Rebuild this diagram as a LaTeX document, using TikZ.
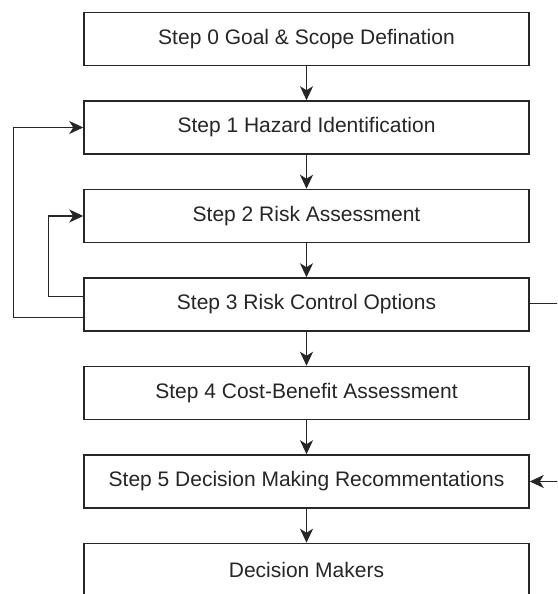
\documentclass[tikz,border=0pt]{standalone}
\usepackage{fontspec}
\setmainfont{Liberation Sans}
\usetikzlibrary{arrows.meta,positioning}

\begin{document}
\begin{tikzpicture}[x=1pt, y=1pt, >={Stealth[length=14pt,width=13pt,inset=4pt]}, node distance=88.5pt, on grid]

\tikzstyle{stepbox}=[draw=black!85, line width=1.5pt, minimum width=445pt, minimum height=53pt, inner sep=0pt, text=black!85, font=\fontsize{21}{25}\selectfont]
\tikzstyle{flow}=[->, line width=1.5pt, draw=black!85]

\clip (0,0) rectangle (557,594);
\fill[white] (0,0) rectangle (557,594);

\node[stepbox] (s0) at (306.5,555) {Step 0 Goal \& Scope Defination};
\node[stepbox, below=of s0] (s1) {Step 1 Hazard Identification};
\node[stepbox, below=of s1] (s2) {Step 2 Risk Assessment};
\node[stepbox, below=of s2] (s3) {Step 3 Risk Control Options};
\node[stepbox, below=of s3] (s4) {Step 4 Cost-Benefit Assessment};
\node[stepbox, below=of s4] (s5) {Step 5 Decision Making Recommentations};
\node[stepbox, below=of s5] (dm) {Decision Makers};

\draw[flow] (s0) -- (s1);
\draw[flow] (s1) -- (s2);
\draw[flow] (s2) -- (s3);
\draw[flow] (s3) -- (s4);
\draw[flow] (s4) -- (s5);
\draw[flow] (s5) -- (dm);

% feedback loops
\draw[flow] ([yshift=-13pt]s3.west) -- ++(-70,0) |- (s1.west);
\draw[flow] ([yshift=8pt]s3.west) -- ++(-35,0) |- (s2.west);
\draw[flow] ([yshift=1pt]s3.east) -- ++(45,0) |- (s5.east);

\end{tikzpicture}
\end{document}
